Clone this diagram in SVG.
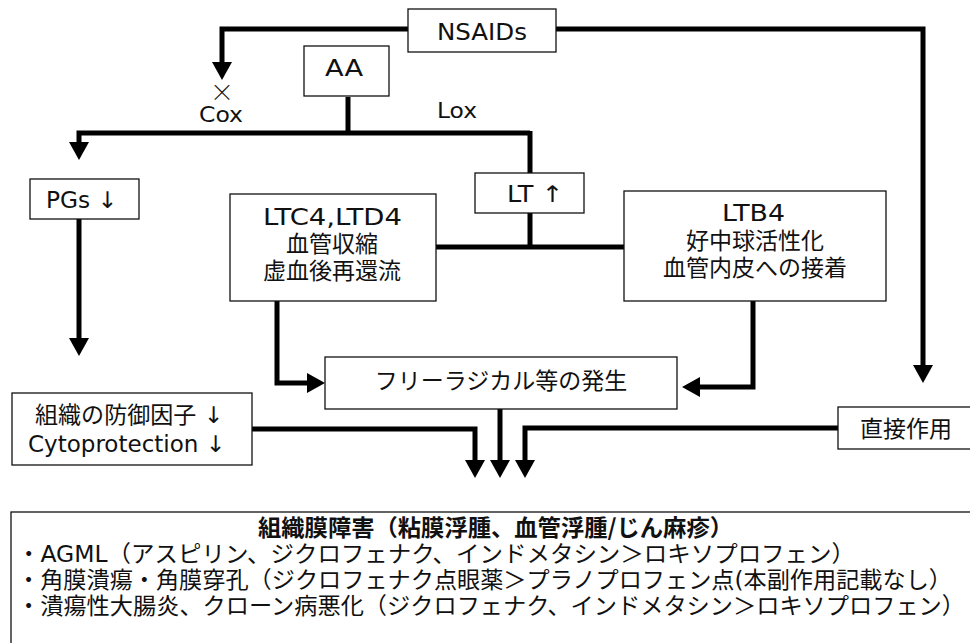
<svg xmlns="http://www.w3.org/2000/svg" width="970" height="643" viewBox="0 0 970 643">
<style>
.box{fill:#fff;stroke:#111;stroke-width:1.3}
.t{font-family:"DejaVu Sans","Noto Sans CJK JP",sans-serif;font-size:23px;fill:#111}
.j{font-family:"Noto Sans CJK JP","DejaVu Sans",sans-serif}
.s{font-size:21px}
.c{text-anchor:middle}
.b{font-weight:bold}
.ln{fill:none;stroke:#000;stroke-width:5;stroke-linejoin:miter}
.ar{fill:none;stroke:#000;stroke-width:5;marker-end:url(#ah)}
</style>
<defs>
<marker id="ah" markerUnits="userSpaceOnUse" viewBox="0 0 18 20" markerWidth="18" markerHeight="20" refX="4" refY="10" orient="auto">
<path d="M0,0 L18,10 L0,20 z" fill="#000"/>
</marker>
</defs>
<rect width="970" height="643" fill="#fff"/>
<g id="connectors">
<path class="ar" d="M408,29 H222 V66"/>
<path class="ln" d="M348,97 V133"/>
<path class="ar" d="M530,133 H79 V146"/>
<path class="ln" d="M530,131 V173"/>
<path class="ar" d="M79,219 V342"/>
<path class="ln" d="M530,213 V247"/>
<path class="ln" d="M436,247 H624"/>
<path class="ar" d="M277,301 V383 H311"/>
<path class="ar" d="M753,301 V387 H696"/>
<path class="ar" d="M556,29 H923 V369"/>
<path class="ar" d="M252,429 H475 V464"/>
<path class="ar" d="M500,409 V464"/>
<path class="ar" d="M838,428 H525 V464"/>
</g>
<g id="nsaids">
<rect class="box" x="408" y="9" width="148" height="43"/>
<text class="t" x="437" y="40" textLength="90" lengthAdjust="spacingAndGlyphs">NSAIDs</text>
</g>
<g id="aa">
<rect class="box" x="304" y="46" width="85" height="50"/>
<text class="t" x="325" y="76" textLength="38" lengthAdjust="spacingAndGlyphs">AA</text>
</g>
<g id="cox">
<text class="t j c" x="222" y="101" style="font-size:24px;font-weight:300">×</text>
<text class="t s" x="199" y="122" textLength="44" lengthAdjust="spacingAndGlyphs">Cox</text>
</g>
<g id="lox">
<text class="t s" x="437" y="118" textLength="40" lengthAdjust="spacingAndGlyphs">Lox</text>
</g>
<g id="pgs">
<rect class="box" x="30" y="179" width="109" height="40"/>
<text class="t" x="46" y="208" textLength="71" lengthAdjust="spacingAndGlyphs">PGs ↓</text>
</g>
<g id="lt">
<rect class="box" x="475" y="173" width="109" height="40"/>
<text class="t" x="507" y="202" textLength="56" lengthAdjust="spacingAndGlyphs">LT ↑</text>
</g>
<g id="ltc4">
<rect class="box" x="230" y="194" width="206" height="107"/>
<text class="t" x="263" y="225" textLength="139" lengthAdjust="spacingAndGlyphs">LTC4,LTD4</text>
<text class="t j c" x="332" y="252">血管収縮</text>
<text class="t j c" x="332" y="279">虚血後再還流</text>
</g>
<g id="ltb4">
<rect class="box" x="624" y="191" width="262" height="110"/>
<text class="t" x="722" y="221" textLength="63" lengthAdjust="spacingAndGlyphs">LTB4</text>
<text class="t j c" x="755" y="249">好中球活性化</text>
<text class="t j c" x="755" y="276">血管内皮への接着</text>
</g>
<g id="freeradical">
<rect class="box" x="325" y="357" width="352" height="52"/>
<text class="t j c" x="501" y="389">フリーラジカル等の発生</text>
</g>
<g id="defense">
<rect class="box" x="12" y="393" width="240" height="72"/>
<text class="t" x="35" y="423" textLength="188" lengthAdjust="spacingAndGlyphs">組織の防御因子 ↓</text>
<text class="t" x="28" y="452" textLength="197" lengthAdjust="spacingAndGlyphs">Cytoprotection ↓</text>
</g>
<g id="direct">
<rect class="box" x="838" y="407" width="140" height="42"/>
<text class="t j" x="860" y="437">直接作用</text>
</g>
<g id="damage">
<rect class="box" x="11" y="512" width="980" height="160"/>
<text class="t j b" x="258" y="536" textLength="475" lengthAdjust="spacingAndGlyphs">組織膜障害（粘膜浮腫、血管浮腫/じん麻疹）</text>
<text class="t" x="17" y="562" textLength="838" lengthAdjust="spacingAndGlyphs">・AGML（アスピリン、ジクロフェナク、インドメタシン＞ロキソプロフェン）</text>
<text class="t" x="17" y="588" textLength="935" lengthAdjust="spacingAndGlyphs">・角膜潰瘍・角膜穿孔（ジクロフェナク点眼薬＞プラノプロフェン点(本副作用記載なし）</text>
<text class="t" x="17" y="614" textLength="948" lengthAdjust="spacingAndGlyphs">・潰瘍性大腸炎、クローン病悪化（ジクロフェナク、インドメタシン＞ロキソプロフェン）</text>
</g>
</svg>
